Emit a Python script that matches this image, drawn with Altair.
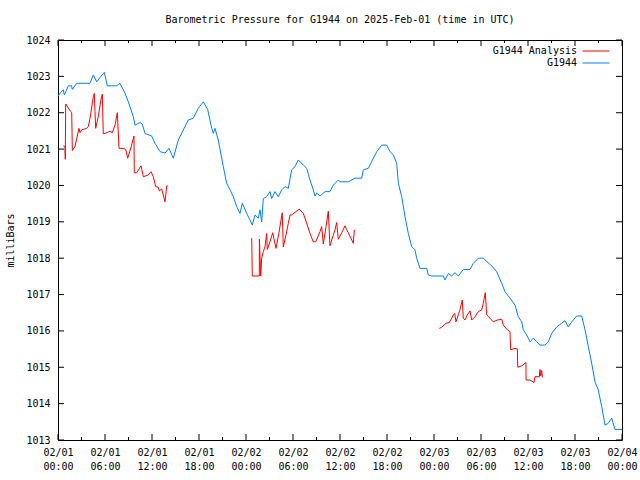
import altair as alt
import pandas as pd

# ---- data (hours since 2025-02-01 00:00 UTC, millibars) ----
blue_h = [0.0, 0.26, 0.68, 0.81, 1.32, 1.74, 1.83, 2.38, 4.09, 4.51, 4.94, 5.36, 5.91, 6.30,
          7.49, 7.91, 8.55, 8.98, 9.61, 9.83, 10.47, 10.76, 11.11, 11.96, 12.38, 13.02, 13.66,
          14.17, 14.72, 15.36, 16.63, 17.27, 17.91, 18.55, 19.11, 19.62, 19.83, 20.04, 20.46,
          21.10, 21.53, 21.96, 22.38, 22.81, 23.23, 23.53, 24.09, 24.51, 24.80, 25.15, 25.57,
          25.79, 26.00, 26.21, 26.64, 27.06, 27.28, 27.70, 28.12, 28.56, 28.98, 29.40, 29.83,
          30.26, 30.68, 31.32, 31.75, 32.17, 32.59, 32.81, 33.03, 33.45, 34.09, 34.72, 35.15,
          35.78, 36.00, 37.06, 37.91, 38.77, 38.98, 39.61, 40.05, 40.69, 41.32, 41.96, 42.38,
          42.81, 43.24, 43.45, 43.88, 44.30, 44.72, 45.15, 45.57, 45.79, 46.21, 47.07, 47.27,
          47.71, 49.19, 49.40, 49.83, 50.26, 50.68, 51.10, 51.74, 52.60, 53.02, 53.66, 54.29,
          54.73, 55.37, 56.00, 56.64, 57.06, 57.70, 58.34, 58.76, 59.20, 59.40, 59.83, 60.26,
          60.68, 61.11, 61.53, 62.17, 62.59, 63.02, 63.66, 64.30, 64.72, 65.15, 65.58, 66.22,
          66.86, 67.28, 67.70, 68.13, 68.55, 68.97, 69.41, 69.83, 70.25, 70.68, 71.11, 71.74,
          72.0]
blue_p = [1022.45, 1022.54, 1022.63, 1022.49, 1022.74, 1022.74, 1022.64, 1022.81, 1022.81,
          1023.04, 1022.85, 1022.97, 1023.11, 1022.74, 1022.74, 1022.81, 1022.54, 1022.30,
          1021.89, 1021.66, 1021.73, 1021.69, 1021.43, 1021.36, 1021.16, 1020.93, 1020.89,
          1021.02, 1020.75, 1021.25, 1021.80, 1021.85, 1022.12, 1022.30, 1022.09, 1021.57,
          1021.43, 1021.57, 1021.25, 1020.52, 1020.06, 1019.88, 1019.69, 1019.42, 1019.23,
          1019.51, 1019.23, 1019.05, 1018.91, 1019.19, 1019.10, 1019.33, 1019.00, 1019.64,
          1019.69, 1019.83, 1019.64, 1019.83, 1019.69, 1019.88, 1019.97, 1019.92, 1020.43,
          1020.52, 1020.70, 1020.56, 1020.47, 1020.15, 1019.88, 1019.71, 1019.79, 1019.71,
          1019.83, 1019.83, 1020.01, 1020.15, 1020.10, 1020.10, 1020.20, 1020.20, 1020.43,
          1020.47, 1020.66, 1020.93, 1021.11, 1021.11, 1020.93, 1020.84, 1020.61, 1020.06,
          1019.69, 1019.14, 1018.68, 1018.32, 1018.23, 1018.00, 1017.72, 1017.72, 1017.54,
          1017.51, 1017.51, 1017.40, 1017.58, 1017.51, 1017.60, 1017.51, 1017.69, 1017.69,
          1017.86, 1018.00, 1018.00, 1017.91, 1017.79, 1017.63, 1017.31, 1017.08, 1016.90,
          1016.71, 1016.39, 1016.25, 1016.03, 1015.89, 1015.70, 1015.80, 1015.70, 1015.61,
          1015.61, 1015.70, 1015.93, 1016.11, 1016.21, 1016.28, 1016.11, 1016.25, 1016.41,
          1016.41, 1016.03, 1015.57, 1015.11, 1014.60, 1014.38, 1013.92, 1013.41, 1013.46,
          1013.60, 1013.29, 1013.29, 1013.29]

red1_h = [0.68, 0.89, 0.93, 0.98, 1.62, 1.75, 1.83, 2.17, 2.39, 2.68, 2.81, 3.03, 3.66, 3.87,
          4.09, 4.51, 4.63, 4.72, 4.81, 5.14, 5.49, 5.66, 5.78, 6.22, 6.64, 6.93, 7.28, 7.57,
          7.79, 8.34, 8.64, 8.90, 9.32, 9.70, 9.74, 10.05, 10.60, 10.89, 11.53, 11.87, 12.17,
          12.47, 12.80, 12.93, 13.24, 13.66, 13.88, 14.00]
red1_p = [1021.09, 1021.07, 1020.72, 1022.24, 1022.03, 1022.00, 1020.96, 1021.07, 1021.29,
          1021.57, 1021.45, 1021.53, 1021.57, 1021.62, 1021.85, 1022.44, 1022.53, 1022.03,
          1021.57, 1021.89, 1022.37, 1022.51, 1021.42, 1021.45, 1021.49, 1021.45, 1021.66,
          1022.00, 1021.02, 1021.02, 1020.99, 1020.75, 1021.05, 1021.36, 1020.35, 1020.35,
          1020.54, 1020.24, 1020.29, 1020.38, 1020.24, 1019.97, 1019.95, 1019.85, 1019.90,
          1019.55, 1019.99, 1019.99]

red2_h = [24.73, 24.80, 25.70, 25.71, 25.88, 26.00, 26.21, 26.43, 26.64, 26.72, 27.06, 27.41,
          27.83, 28.21, 28.43, 28.63, 28.76, 29.11, 29.40, 29.62, 29.83, 30.80, 31.32, 31.75,
          32.17, 32.59, 32.90, 33.45, 33.66, 33.87, 34.21, 34.51, 34.72, 35.07, 35.36, 35.58,
          35.78, 36.22, 36.64, 36.86, 37.06, 37.70, 37.83]
red2_p = [1018.55, 1017.51, 1017.51, 1018.52, 1017.51, 1018.00, 1018.18, 1018.32, 1018.68,
          1018.24, 1018.45, 1018.70, 1018.27, 1018.70, 1019.00, 1019.25, 1018.31, 1018.64,
          1018.96, 1019.19, 1019.19, 1019.35, 1019.23, 1018.96, 1018.68, 1018.45, 1018.45,
          1018.73, 1018.87, 1018.39, 1018.85, 1019.29, 1018.34, 1018.59, 1018.78, 1018.98,
          1018.52, 1018.70, 1018.89, 1018.78, 1018.70, 1018.41, 1018.78]

red3_h = [48.68, 48.98, 49.53, 49.95, 50.26, 50.46, 50.64, 50.81, 51.10, 51.32, 51.61, 51.74,
          51.96, 52.25, 52.60, 52.81, 53.23, 53.66, 54.09, 54.29, 54.55, 54.73, 55.15, 55.57,
          56.08, 56.64, 56.85, 57.36, 57.70, 57.79, 58.34, 58.64, 58.69, 59.20, 59.74, 59.75,
          60.26, 60.77, 60.89, 61.45, 61.53, 61.62, 61.75, 61.83]
red3_p = [1016.07, 1016.10, 1016.21, 1016.23, 1016.35, 1016.44, 1016.48, 1016.25, 1016.44,
          1016.59, 1016.85, 1016.35, 1016.30, 1016.44, 1016.55, 1016.30, 1016.39, 1016.53,
          1016.58, 1016.76, 1017.05, 1016.44, 1016.35, 1016.25, 1016.30, 1016.32, 1016.16,
          1016.03, 1015.98, 1015.48, 1015.52, 1015.50, 1015.00, 1015.04, 1015.13, 1014.65,
          1014.65, 1014.58, 1014.74, 1014.74, 1014.94, 1014.76, 1014.91, 1014.72]

series_names = ["G1944 Analysis", "G1944"]
series_colors = ["#ff0000", "#0080ff"]
x_major = list(range(0, 73, 6))
x_minor = list(range(3, 72, 6))
y_ticks = list(range(1013, 1025))

# ---- tables ----
blue_df = pd.DataFrame({"h": blue_h, "p": blue_p})
blue_df["series"] = "G1944"
blue_df["seg"] = 0
blue_df["i"] = range(len(blue_df))

red_parts = []
for k, (hh, pp) in enumerate([(red1_h, red1_p), (red2_h, red2_p), (red3_h, red3_p)]):
    d = pd.DataFrame({"h": hh, "p": pp})
    d["seg"] = k + 1
    red_parts.append(d)
red_df = pd.concat(red_parts, ignore_index=True)
red_df["series"] = "G1944 Analysis"
red_df["i"] = range(len(red_df))

xmaj_df = pd.DataFrame({"h": x_major})
xmin_df = pd.DataFrame({"h": x_minor})
ytick_df = pd.DataFrame({"p": y_ticks})

W, H = 564, 400
MAJ, MIN = 6, 3
FONT = "DejaVu Sans Mono"

xscale = alt.Scale(domain=[0, 72], nice=False, zero=False)
yscale = alt.Scale(domain=[1013, 1024], nice=False, zero=False)
color = alt.Color("series:N",
                  scale=alt.Scale(domain=series_names, range=series_colors),
                  legend=alt.Legend(title=None, orient="none", legendX=533, legendY=6,
                                    symbolType="M-3,0H3", symbolSize=81,
                                    symbolStrokeWidth=1, symbolFillColor="transparent",
                                    labelAlign="right", labelOffset={"expr": "-24"},
                                    labelFont=FONT, labelFontSize=10, labelColor="black",
                                    rowPadding=2))

label_expr = ("['02/0' + toString(floor(datum.value/24)+1), "
              "(datum.value % 24 < 10 ? '0' : '') + toString(datum.value % 24) + ':00']")

x_axis = alt.Axis(orient="bottom", values=x_major, labelExpr=label_expr, ticks=False,
                  domain=False, grid=False, title=None, labelPadding=7,
                  labelLineHeight=14, labelFont=FONT, labelFontSize=10,
                  labelColor="black", labelFlush=False, labelOverlap=False)
y_axis = alt.Axis(orient="left", values=y_ticks, format="d", ticks=False, domain=False,
                  grid=False, title="milliBars", titleFont=FONT, titleFontSize=10,
                  titleFontWeight="normal", titleColor="black", titlePadding=10,
                  labelPadding=8, labelFont=FONT, labelFontSize=10,
                  labelColor="black", labelOverlap=False)

layer_blue = alt.Chart(blue_df).mark_line(strokeWidth=1).encode(
    x=alt.X("h:Q", scale=xscale, axis=x_axis),
    y=alt.Y("p:Q", scale=yscale, axis=y_axis),
    color=color,
    detail="seg:N",
    order="i:Q",
)

layer_red = alt.Chart(red_df).mark_line(strokeWidth=1).encode(
    x=alt.X("h:Q", scale=xscale, axis=x_axis),
    y=alt.Y("p:Q", scale=yscale, axis=y_axis),
    color=color,
    detail="seg:N",
    order="i:Q",
)

# inward tick marks on all four sides (gnuplot style)
def xticks(df, y0, y1):
    return alt.Chart(df).mark_rule(color="black", strokeWidth=1).encode(
        x=alt.X("h:Q", scale=xscale, axis=x_axis), y=alt.value(y0), y2=alt.value(y1))

def yticks(df, x0, x1):
    return alt.Chart(df).mark_rule(color="black", strokeWidth=1).encode(
        y=alt.Y("p:Q", scale=yscale, axis=y_axis), x=alt.value(x0), x2=alt.value(x1))

tick_layers = [
    xticks(xmaj_df, H, H - MAJ), xticks(xmin_df, H, H - MIN),
    xticks(xmaj_df, 0, MAJ), xticks(xmin_df, 0, MIN),
    yticks(ytick_df, 0, MAJ), yticks(ytick_df, W, W - MAJ),
]

chart = alt.layer(layer_blue, layer_red, *tick_layers).properties(
    width=W, height=H,
    title=alt.TitleParams("Barometric Pressure for G1944 on 2025-Feb-01 (time in UTC)",
                          font=FONT, fontSize=10, fontWeight="normal", color="black",
                          anchor="middle", offset=10),
    autosize=alt.AutoSizeParams(type="none"),
    padding={"left": 58, "top": 40, "right": 18, "bottom": 40},
    background="white",
).configure_view(stroke="black", strokeWidth=1)

chart.save("out.html", embed_options={"renderer": "svg", "actions": False})
